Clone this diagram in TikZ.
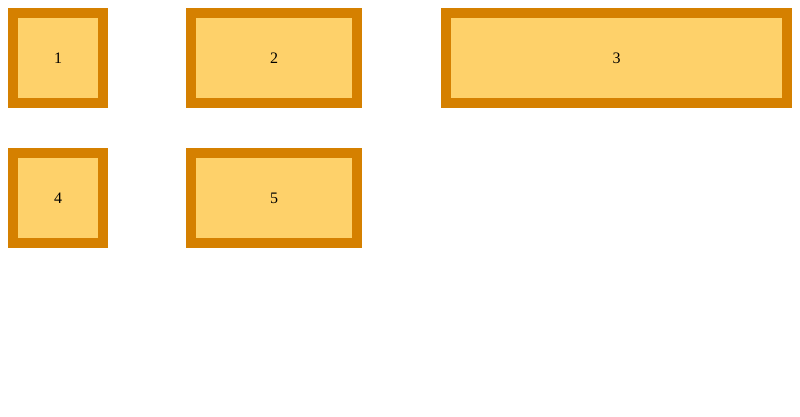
\documentclass[tikz,border=0pt]{standalone}
\usepackage{fontspec}
\setmainfont{Liberation Serif}
\usetikzlibrary{positioning}
\definecolor{boxedge}{RGB}{213,128,0}
\definecolor{boxfill}{RGB}{254,209,106}

\begin{document}
\begin{tikzpicture}
  [x=1pt,
   y=-1pt,
   node distance=40pt and 78pt,
   cell/.style={rectangle, draw=boxedge, fill=boxfill, line width=10pt,
                minimum height=90pt, inner sep=0pt,
                font=\fontsize{16}{19}\selectfont}
  ]
  \useasboundingbox (0,0) rectangle (800,416);
  \node[cell, minimum width=90pt]  (one)   at (58,58)            {1};
  \node[cell, minimum width=166pt] (two)   [right=of one]        {2};
  \node[cell, minimum width=341pt] (three) [right=79pt of two]   {3};
  \node[cell, minimum width=90pt]  (four)  [below=of one]        {4};
  \node[cell, minimum width=166pt] (five)  [below=of two]        {5};
\end{tikzpicture}
\end{document}
